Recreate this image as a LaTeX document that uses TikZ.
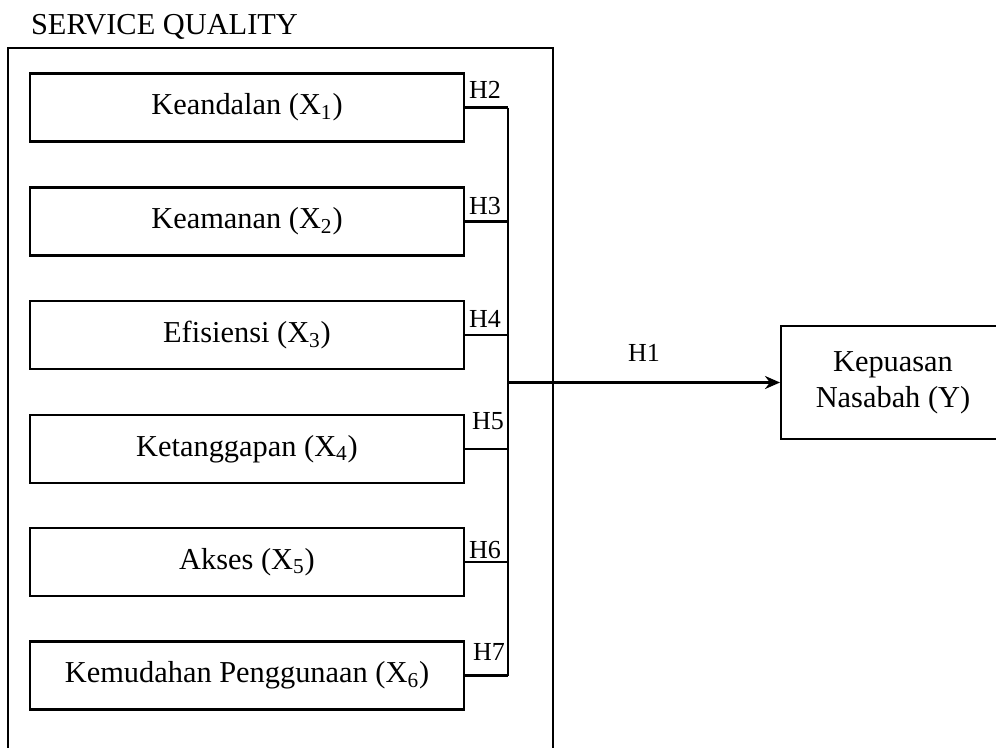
\documentclass[tikz,border=0pt]{standalone}
\usepackage{fontspec}
\setmainfont{Liberation Serif}
\usetikzlibrary{arrows.meta,positioning}

\begin{document}
\begin{tikzpicture}[x=0.02cm,y=-0.02cm,>=Stealth,line width=1.25pt,
  varbox/.style={draw,minimum width=8.68cm,minimum height=1.36cm,align=center,inner sep=2pt,font=\fontsize{17.3}{20}\selectfont},
  hlabel/.style={anchor=base west,inner sep=0pt,font=\fontsize{14.8}{17}\selectfont}]
\path[use as bounding box,clip] (0,0) rectangle (996,747);
% service quality frame
\node[anchor=base west,inner sep=0pt,font=\fontsize{17.3}{20}\selectfont] (sqtitle) at (30,34) {SERVICE QUALITY};
\draw (8,770) -- (8,48) -- (553,48) -- (553,770);
% dimensions
\node[varbox] (x1) at (247,107.5) {Keandalan (X\textsubscript{1})};
\node[varbox] (x2) at (247,221.5) {Keamanan (X\textsubscript{2})};
\node[varbox] (x3) at (247,335) {Efisiensi (X\textsubscript{3})};
\node[varbox] (x4) at (247,449) {Ketanggapan (X\textsubscript{4})};
\node[varbox] (x5) at (247,562) {Akses (X\textsubscript{5})};
\node[varbox] (x6) at (247,675.5) {Kemudahan Penggunaan (X\textsubscript{6})};
\node[draw,minimum width=5.4cm,minimum height=2.26cm,anchor=west] (ky) at (780,382.5) {};
\node[align=center,font=\fontsize{17.3}{20.5}\selectfont] (kytext) at (893,382.5) {Kepuasan\\Nasabah (Y)};
% bus and arrow
\coordinate (bus) at (508,0);
\foreach \i in {1,...,6}
  \draw (x\i.east) -- (bus |- x\i.east);
\draw (bus |- x1.east) -- (bus |- x6.east);
\draw[line width=1.5pt,-{Stealth[length=3mm,width=2.6mm]}] (bus |- ky.west) -- (ky.west);
% hypothesis labels
\node[hlabel] (h1) at (627,361) {H1};
\node[hlabel] (h2) at (468,98) {H2};
\node[hlabel] (h3) at (468,214) {H3};
\node[hlabel] (h4) at (468,327) {H4};
\node[hlabel] (h5) at (471,429) {H5};
\node[hlabel] (h6) at (468,558) {H6};
\node[hlabel] (h7) at (472,660) {H7};
\end{tikzpicture}
\end{document}
